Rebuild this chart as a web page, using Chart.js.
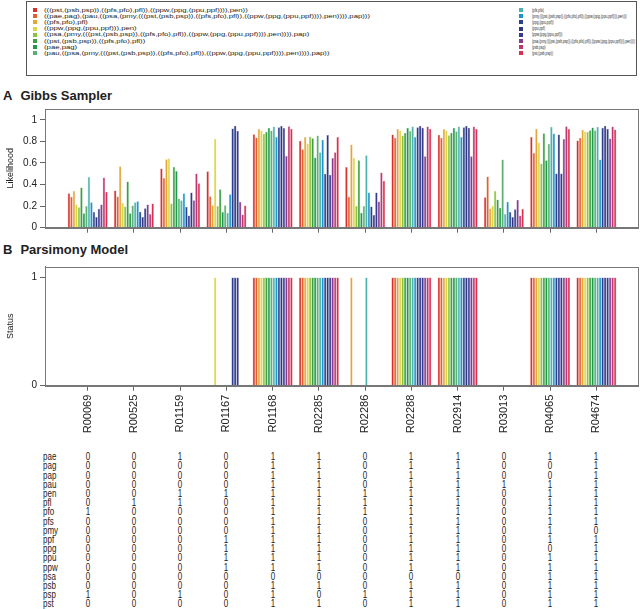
<!DOCTYPE html>
<html><head><meta charset="utf-8">
<script src="https://cdn.jsdelivr.net/npm/chart.js@4/dist/chart.umd.min.js"></script>
<style>
html,body{margin:0;padding:0;background:#fff;}
body{width:643px;height:609px;overflow:hidden;position:relative;font-family:"Liberation Sans",Arial,sans-serif;color:#222;}
#legend{position:absolute;left:26px;top:1px;width:611px;height:75px;border:1px solid #555;box-sizing:border-box;}
.li{position:absolute;white-space:nowrap;font-size:6px;line-height:7px;height:7px;transform-origin:0 50%;}
.li.r{font-size:5.2px;}
.sw{position:absolute;width:4px;height:4px;}
.title{position:absolute;left:3px;font-weight:bold;font-size:13px;line-height:13px;white-space:nowrap;}
.title span{margin-right:8px;}
canvas{position:absolute;left:0;}
#cA{top:100px;}
#cB{top:240px;}
.tr{position:absolute;font-size:10px;line-height:10px;white-space:nowrap;}
</style></head>
<body>
<div id="legend"></div>
<div class="title" style="top:89px"><span>A</span>Gibbs Sampler</div>
<div class="title" style="top:243px"><span>B</span>Parsimony Model</div>
<canvas id="cA" width="643" height="140" style="width:643px;height:140px"></canvas>
<canvas id="cB" width="643" height="210" style="width:643px;height:210px"></canvas>
<div id="table"></div>
<script>
const groups = ["R00069","R00525","R01159","R01167","R01168","R02285","R02286","R02288","R02914","R03013","R04065","R04674"];
const seriesNames = [
"(((pst,(psb,psp)),((pfs,pfo),pfl)),((ppw,(ppg,(ppu,ppf)))),pen))",
"((pae,pag),(pau,((psa,(pmy,(((pst,(psb,psp)),((pfs,pfo),pfl)),((ppw,(ppg,(ppu,ppf)))),pen)))),pap)))",
"((pfs,pfo),pfl)",
"((ppw,(ppg,(ppu,ppf))),pen)",
"((psa,(pmy,(((pst,(psb,psp)),((pfs,pfo),pfl)),((ppw,(ppg,(ppu,ppf)))),pen)))),pap)",
"((pst,(psb,psp)),((pfs,pfo),pfl))",
"(pae,pag)",
"(pau,((psa,(pmy,(((pst,(psb,psp)),((pfs,pfo),pfl)),((ppw,(ppg,(ppu,ppf)))),pen)))),pap))",
"(pfs,pfo)",
"(pmy,(((pst,(psb,psp)),((pfs,pfo),pfl)),((ppw,(ppg,(ppu,ppf)))),pen)))",
"(ppg,(ppu,ppf))",
"(ppu,ppf)",
"(ppw,(ppg,(ppu,ppf)))",
"(psa,(pmy,(((pst,(psb,psp)),((pfs,pfo),pfl)),((ppw,(ppg,(ppu,ppf)))),pen))))",
"(psb,psp)",
"(pst,(psb,psp))"
];
const seriesColors = ["#d7312b","#e0602e","#e4a63a","#dcd646","#8cc23f","#3aa043","#1f9a4b","#5cae74","#4bb3ae","#1f93cc","#2a3f8e","#2e3582","#363a8f","#863c8e","#c0366f","#d9304f"];

// Gibbs sampler likelihood, one list per reaction (16 series each)
const likelihoodByGroup = [
[0.32,0.286,0.339,0.216,0.19,0.372,0.135,0.20,0.47,0.237,0.145,0.10,0.175,0.216,0.465,0.332],
[0.345,0.29,0.569,0.228,0.197,0.428,0.135,0.206,0.237,0.246,0.148,0.10,0.18,0.216,0.126,0.225],
[0.548,0.461,0.634,0.643,0.225,0.563,0.526,0.271,0.255,0.32,0.194,0.114,0.326,0.255,0.502,0.412],
[0.523,0.292,0.209,0.825,0.20,0.357,0.145,0.209,0.138,0.311,0.92,0.945,0.898,0.24,0.123,0.206],
[0.867,0.837,0.917,0.90,0.87,0.89,0.926,0.90,0.938,0.84,0.93,0.945,0.925,0.664,0.94,0.917],
[0.806,0.726,0.84,0.78,0.845,0.83,0.65,0.855,0.70,0.815,0.50,0.86,0.49,0.646,0.70,0.84],
[0.563,0.286,0.772,0.649,0.20,0.625,0.138,0.20,0.671,0.326,0.197,0.117,0.326,0.243,0.511,0.434],
[0.864,0.834,0.914,0.90,0.855,0.88,0.926,0.895,0.938,0.84,0.932,0.945,0.926,0.661,0.938,0.917],
[0.862,0.834,0.914,0.90,0.857,0.88,0.926,0.893,0.938,0.84,0.932,0.945,0.926,0.661,0.938,0.917],
[0.283,0.474,0.179,0.203,0.341,0.262,0.185,0.631,0.126,0.24,0.145,0.10,0.172,0.258,0.114,0.175],
[0.84,0.692,0.917,0.79,0.594,0.876,0.625,0.778,0.935,0.873,0.502,0.864,0.502,0.821,0.941,0.914],
[0.809,0.834,0.908,0.892,0.889,0.904,0.929,0.904,0.935,0.631,0.926,0.945,0.917,0.827,0.938,0.91]
];
// Parsimony status, one list per reaction (16 series each)
const statusByGroup = [
[0,0,0,0,0,0,0,0,0,0,0,0,0,0,0,0],
[0,0,0,0,0,0,0,0,0,0,0,0,0,0,0,0],
[0,0,0,0,0,0,0,0,0,0,0,0,0,0,0,0],
[0,0,0,1,0,0,0,0,0,0,1,1,1,0,0,0],
[1,1,1,1,1,1,1,1,1,1,1,1,1,1,1,1],
[1,1,1,1,1,1,1,1,1,1,1,1,1,1,1,1],
[0,0,1,0,0,0,0,0,1,0,0,0,0,0,0,0],
[1,1,1,1,1,1,1,1,1,1,1,1,1,1,1,1],
[1,1,1,1,1,1,1,1,1,1,1,1,1,1,1,1],
[0,0,0,0,0,0,0,0,0,0,0,0,0,0,0,0],
[1,1,1,1,1,1,1,1,1,1,1,1,1,1,1,1],
[1,1,1,1,1,1,1,1,1,1,1,1,1,1,1,1]
];
const likelihoodTicks = [0,0.2,0.4,0.6,0.8,1];
const statusTicks = [0,1];
const species = ["pae","pag","pap","pau","pen","pfl","pfo","pfs","pmy","ppf","ppg","ppu","ppw","psa","psb","psp","pst"];
// presence table: one list per species, 12 reactions
const presence = [
[0,0,1,0,1,1,0,1,1,0,1,1],
[0,0,0,0,1,1,0,1,1,0,0,1],
[0,0,0,0,1,1,0,1,1,0,0,1],
[0,0,0,0,1,1,0,1,1,1,1,1],
[0,0,1,1,1,1,1,1,1,0,1,1],
[0,1,1,0,1,1,1,1,1,0,1,1],
[1,0,0,0,1,1,1,1,1,0,1,1],
[0,0,0,0,1,1,0,1,1,0,1,1],
[0,0,0,0,1,1,0,1,1,0,1,0],
[0,0,0,1,1,1,0,1,1,0,1,1],
[0,0,0,1,1,1,0,1,1,0,0,1],
[0,0,0,1,1,1,0,1,1,0,1,1],
[0,0,0,1,1,1,0,1,1,0,1,1],
[0,0,0,0,0,0,0,0,0,0,1,1],
[0,0,0,0,1,1,0,1,1,0,1,1],
[1,0,1,0,1,0,1,1,1,0,1,1],
[0,0,0,0,1,1,0,1,1,0,1,1]
];

// ---- legend (HTML) ----
const leg = document.getElementById('legend');
const items = [];
seriesNames.forEach((n, i) => {
  const col = i < 8 ? 0 : 1, row = i % 8;
  const y = 9 + row * 6.2 - 1;
  const sx = col ? 519 - 27 : 33 - 27;
  const tx = col ? 532 - 27 : 44 - 27;
  const sw = document.createElement('div');
  sw.className = 'sw'; sw.style.background = seriesColors[i];
  sw.style.left = sx + 'px'; sw.style.top = (y - 2) + 'px';
  leg.appendChild(sw);
  const t = document.createElement('div');
  t.className = 'li' + (col ? ' r' : ''); t.textContent = n;
  t.style.left = tx + 'px'; t.style.top = (y - 3.5) + 'px';
  leg.appendChild(t);
  items.push({ el: t, col });
});
// horizontal text compression per column, fitted to the widest entry of each column
const colWidth = [326, 103];
[0, 1].forEach(c => {
  const els = items.filter(o => o.col === c).map(o => o.el);
  const w = Math.max(...els.map(e => e.getBoundingClientRect().width));
  els.forEach(e => { e.style.transform = 'scaleX(' + (colWidth[c] / w) + ')'; });
});

Chart.defaults.font.family = '"Liberation Sans", Arial, sans-serif';
Chart.defaults.color = '#222';
Chart.defaults.animation = false;

const xMin = -0.923, xMax = 11.9;
const boxPlugin = {
  id: 'box',
  afterDraw(chart) {
    const a = chart.chartArea, c = chart.ctx;
    c.save(); c.strokeStyle = '#777'; c.lineWidth = 1;
    c.strokeRect(Math.round(a.left) + 0.5, Math.round(a.top) + 0.5, Math.round(a.right - a.left), Math.round(a.bottom - a.top));
    c.restore();
  }
};

function lighten(hex, a) {
  const n = parseInt(hex.slice(1), 16);
  return 'rgba(' + (n >> 16) + ',' + ((n >> 8) & 255) + ',' + (n & 255) + ',' + a + ')';
}
function makeDatasets(byGroup) {
  return seriesNames.map((n, s) => ({
    label: n,
    data: byGroup.map((vals, g) => ({ x: g, y: vals[s] })),
    backgroundColor: seriesColors[s],
    borderColor: lighten(seriesColors[s], 0.55),
    borderWidth: 0.5,
    categoryPercentage: 0.865,
    barPercentage: 1
  }));
}

function xScale(showLabels, h) {
  return {
    type: 'linear', min: xMin, max: xMax, offset: false,
    afterBuildTicks: sc => { sc.ticks = groups.map((_, i) => ({ value: i })); },
    afterFit: sc => { sc.height = h; },
    grid: { display: true, offset: false, drawOnChartArea: false, drawTicks: true, tickLength: 5, color: '#666' },
    border: { display: true, color: '#777' },
    ticks: {
      autoSkip: false, minRotation: 90, maxRotation: 90, padding: 4,
      font: { size: 11 }, color: '#222',
      callback: (v, i) => showLabels ? groups[i] : ''
    }
  };
}
function yScale(max, tickVals, title) {
  return {
    type: 'linear', min: 0, max: max,
    afterBuildTicks: sc => { sc.ticks = tickVals.map(v => ({ value: v })); },
    afterFit: sc => { sc.width = 45; },
    grid: { display: true, drawOnChartArea: false, drawTicks: true, tickLength: 5, color: '#666' },
    border: { display: true, color: '#777' },
    ticks: { padding: 3, font: { size: 10 }, color: '#222', callback: v => String(v) },
    title: { display: true, text: title, font: { size: 9 }, padding: { top: 5, bottom: 2 } }
  };
}

const chartA = new Chart(document.getElementById('cA'), {
  type: 'bar',
  data: { datasets: makeDatasets(likelihoodByGroup) },
  options: {
    responsive: false, devicePixelRatio: 1,
    layout: { padding: { top: 8.3, right: 5, left: 0, bottom: 0 } },
    plugins: { legend: { display: false }, tooltip: { enabled: false } },
    scales: { x: xScale(false, 12.3), y: yScale(1.1, likelihoodTicks, 'Likelihood') }
  },
  plugins: [boxPlugin]
});

const chartB = new Chart(document.getElementById('cB'), {
  type: 'bar',
  data: { datasets: makeDatasets(statusByGroup) },
  options: {
    responsive: false, devicePixelRatio: 1,
    layout: { padding: { top: 26.7, right: 5, left: 0, bottom: 0 } },
    plugins: { legend: { display: false }, tooltip: { enabled: false } },
    scales: { x: xScale(true, 64.3), y: yScale(1.1, statusTicks, 'Status') }
  },
  plugins: [boxPlugin]
});

// ---- table (HTML) aligned to chart B's x scale ----
const tb = document.getElementById('table');
const xs = chartB.scales.x;
species.forEach((sp, r) => {
  const y = 457.3 + r * 9.19;
  const lab = document.createElement('div');
  lab.className = 'tr'; lab.textContent = sp;
  lab.style.left = '43px'; lab.style.top = (y - 5) + 'px';
  lab.style.transform = 'scaleX(0.8)'; lab.style.transformOrigin = '0 50%';
  tb.appendChild(lab);
  presence[r].forEach((v, g) => {
    const d = document.createElement('div');
    d.className = 'tr'; d.textContent = String(v);
    const px = xs.getPixelForValue(g);
    d.style.left = (px - 10) + 'px'; d.style.width = '20px'; d.style.textAlign = 'center';
    d.style.top = (y - 5) + 'px';
    d.style.transform = 'scaleX(0.8)';
    tb.appendChild(d);
  });
});
</script>
</body></html>
